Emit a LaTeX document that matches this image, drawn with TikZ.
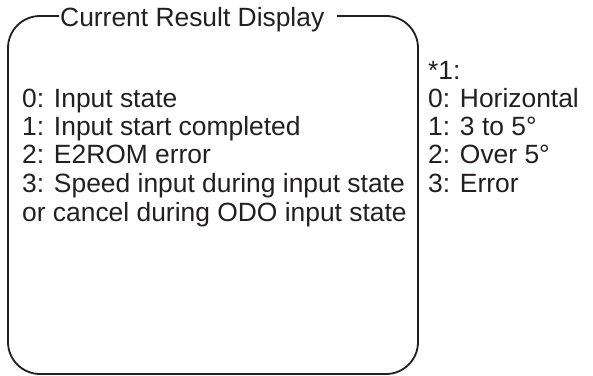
\documentclass[tikz,border=0pt]{standalone}
\usepackage{fontspec}
\setmainfont{Liberation Sans}
\usepackage{xcolor}
\definecolor{ink}{HTML}{231F20}

\begin{document}
\begin{tikzpicture}[x=1pt, y=1pt,
  txt/.style={anchor=base west, inner sep=0pt, text=ink, font=\fontsize{26.4}{30}\selectfont},
  frame/.style={draw=ink, line width=1.8pt, rounded corners=32pt}]
\useasboundingbox (0,0) rectangle (593,375);

% Title
\node[txt] (title) at (60,348.5) {Current Result Display};
\coordinate (tl) at (59,359);
\coordinate (tr) at (337,359);

% Frame
\draw[frame] (tl) -- (8,359) -- (8,1) -- (418,1) -- (418,359) -- (tr);

% Result codes
\node[txt] (r0) at (22,267.5) {0: Input state};
\node[txt] (r1) at (22,239.2) {1: Input start completed};
\node[txt] (r2) at (22,211) {2: E2ROM error};
\node[txt] (r3) at (22,182.5) {3: Speed input during input state};
\node[txt] (r4) at (22,154) {or cancel during ODO input state};

% Note *1
\node[txt] (n0) at (428,295.5) {*1:};
\node[txt] (n1) at (428,267.5) {0: Horizontal};
\node[txt] (n2) at (428,239.2) {1: 3 to 5°};
\node[txt] (n3) at (428,211) {2: Over 5°};
\node[txt] (n4) at (428,182.5) {3: Error};

\end{tikzpicture}
\end{document}
